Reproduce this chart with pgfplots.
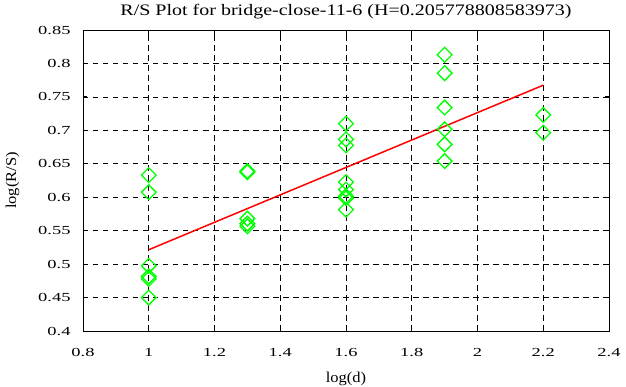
\documentclass[border=0pt]{standalone}
\usepackage{pgfplots}
\pgfplotsset{compat=1.18}
\usepackage{fontspec}
\setmainfont{Liberation Serif}
\newfontfamily\tickfont[FakeStretch=1.5]{Liberation Serif}
\newfontfamily\titlefont[FakeStretch=1.25]{Liberation Serif}
\newfontfamily\labelfont[FakeStretch=1.1]{Liberation Serif}
\begin{document}
\begin{tikzpicture}[x=1bp,y=1bp]
\useasboundingbox (-83bp,-56bp) rectangle (543bp,331bp);
\begin{axis}[
  at={(0,0)}, anchor=south west,
  scale only axis, width=526bp, height=301bp,
  xmin=0.8, xmax=2.4, ymin=0.4, ymax=0.85,
  xtick={0.8,1,...,2.4}, ytick={0.4,0.45,...,0.85},
  xticklabels={0.8,1,1.2,1.4,1.6,1.8,2,2.2,2.4},
  yticklabels={0.4,0.45,0.5,0.55,0.6,0.65,0.7,0.75,0.8,0.85},
  tick align=inside, tick pos=both,
  major tick length=4.5bp,
  grid=major, major grid style={black, line width=0.6pt, dash pattern=on 5.5bp off 4.5bp},
  axis line style={black, line width=0.8pt},
  tick style={black, line width=0.8pt},
  title={R/S Plot for bridge-close-11-6 (H=0.205778808583973)},
  xlabel={log(d)}, ylabel={log(R/S)},
  /pgf/number format/assume math mode=true,
  xticklabel style={font=\tickfont\fontsize{12.3bp}{14bp}\selectfont, yshift=-14bp},
  yticklabel style={font=\tickfont\fontsize{12.3bp}{14bp}\selectfont, xshift=-9bp},
  xlabel style={font=\labelfont\fontsize{15bp}{17bp}\selectfont, yshift=-8bp},
  ylabel style={font=\labelfont\fontsize{15bp}{17bp}\selectfont, yshift=12bp},
  title style={font=\titlefont\fontsize{16bp}{18bp}\selectfont, yshift=2bp},
]
\addplot[only marks, mark=square, mark size=5.2bp, color={rgb,255:red,0;green,255;blue,0}, mark options={rotate=45, line width=1.3pt}] table {
x y
1 0.633
1 0.6075
1 0.4975
1 0.4815
1 0.478
1 0.45
1.3 0.6375
1.3 0.639
1.3 0.568
1.3 0.5605
1.3 0.5565
1.6 0.71
1.6 0.6865
1.6 0.6775
1.6 0.6225
1.6 0.6115
1.6 0.6015
1.6 0.5985
1.6 0.5815
1.9 0.813
1.9 0.7855
1.9 0.734
1.9 0.7015
1.9 0.679
1.9 0.654
2.2 0.723
2.2 0.6965
};
\addplot[red, line width=1.5pt] coordinates {(1,0.5215) (2.2,0.7675)};
\end{axis}
\end{tikzpicture}
\end{document}
